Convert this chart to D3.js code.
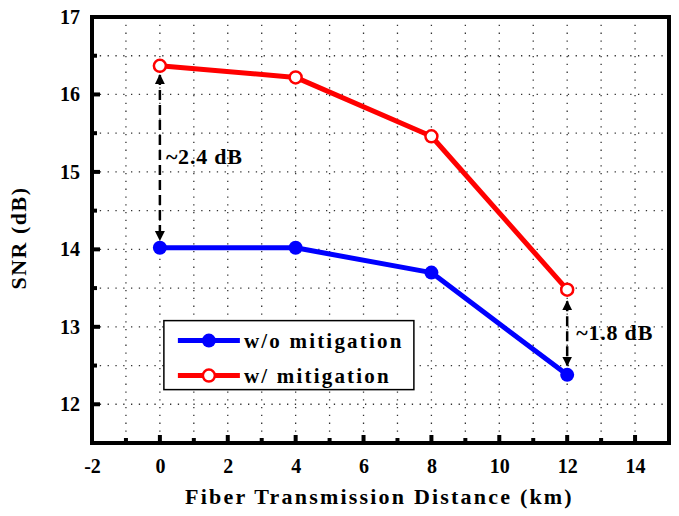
<!DOCTYPE html>
<html>
<head>
<meta charset="utf-8">
<script src="https://cdn.jsdelivr.net/npm/d3@7"></script>
<style>
  body { margin: 0; background: #fff; }
  text { font-family: "Liberation Serif", "Times New Roman", serif; font-weight: bold; }
</style>
</head>
<body>
<div id="chart"></div>
<script>
// distances (km)
const distances = [0, 4, 8, 12];
// SNR (dB)
const snrWithout = [14.02, 14.02, 13.70, 12.38];
const snrWith = [16.37, 16.22, 15.46, 13.48];
const xTicks = [-2, 0, 2, 4, 6, 8, 10, 12, 14];
const yTicks = [12, 13, 14, 15, 16, 17];

const W = 679, H = 516;
const margin = {top: 17, right: 10, bottom: 73, left: 92};
const width = W - margin.left - margin.right;
const height = H - margin.top - margin.bottom;

const svg = d3.select("#chart").append("svg")
    .attr("width", W)
    .attr("height", H);

const g = svg.append("g")
    .attr("transform", "translate(" + margin.left + "," + margin.top + ")");

const x = d3.scaleLinear().domain([-2, 15]).range([0, width]);
const y = d3.scaleLinear().domain([11.5, 17]).range([height, 0]);

// dotted grid
const gridX = d3.range(-1, 15, 1);
const gridY = d3.range(12, 17, 0.5);
g.selectAll(".gx").data(gridX).enter().append("line")
    .attr("x1", d => x(d)).attr("x2", d => x(d))
    .attr("y1", 0).attr("y2", height)
    .attr("stroke", "#333").attr("stroke-width", 1.3)
    .attr("stroke-dasharray", "1.3,6.5");
g.selectAll(".gy").data(gridY).enter().append("line")
    .attr("y1", d => y(d)).attr("y2", d => y(d))
    .attr("x1", 0).attr("x2", width)
    .attr("stroke", "#333").attr("stroke-width", 1.3)
    .attr("stroke-dasharray", "1.3,6.5");

// ticks (inside)
g.selectAll(".tx").data(gridX.concat([-2, 15])).enter().append("line")
    .attr("x1", d => x(d)).attr("x2", d => x(d))
    .attr("y1", height).attr("y2", d => height - (d % 2 === 0 ? 8 : 5))
    .attr("stroke", "#000").attr("stroke-width", 4);
g.selectAll(".ty").data(gridY).enter().append("line")
    .attr("y1", d => y(d)).attr("y2", d => y(d))
    .attr("x1", 0).attr("x2", d => (d % 1 === 0 ? 8 : 5))
    .attr("stroke", "#000").attr("stroke-width", 4);

// axis labels
const fmt = d => String(d);
const xAxis = d3.axisBottom(x).tickValues(xTicks).tickFormat(fmt).tickSize(0).tickPadding(16);
g.append("g").attr("transform", "translate(0," + height + ")").call(xAxis)
    .call(s => s.select(".domain").remove())
    .selectAll("text").attr("font-size", 20).attr("fill", "#000");
const yAxis = d3.axisLeft(y).tickValues(yTicks).tickFormat(fmt).tickSize(0).tickPadding(12);
g.append("g").call(yAxis)
    .call(s => s.select(".domain").remove())
    .selectAll("text").attr("font-size", 20).attr("fill", "#000");

// frame
g.append("rect").attr("x", 0).attr("y", 0).attr("width", width).attr("height", height)
    .attr("fill", "none").attr("stroke", "#000").attr("stroke-width", 4);

// lines
const line = d3.line().x(d => x(d[0])).y(d => y(d[1]));
const blueData = distances.map((d, i) => [d, snrWithout[i]]);
const redData = distances.map((d, i) => [d, snrWith[i]]);

g.append("path").datum(blueData).attr("d", line)
    .attr("fill", "none").attr("stroke", "#0000ff").attr("stroke-width", 5)
    .attr("stroke-linejoin", "round");
g.selectAll(".pb").data(blueData).enter().append("circle")
    .attr("cx", d => x(d[0])).attr("cy", d => y(d[1])).attr("r", 7)
    .attr("fill", "#0000ff");

g.append("path").datum(redData).attr("d", line)
    .attr("fill", "none").attr("stroke", "#ff0000").attr("stroke-width", 5)
    .attr("stroke-linejoin", "round");
g.selectAll(".pr").data(redData).enter().append("circle")
    .attr("cx", d => x(d[0])).attr("cy", d => y(d[1])).attr("r", 6)
    .attr("fill", "#fff").attr("stroke", "#ff0000").attr("stroke-width", 2.5);

// arrow markers
const defs = svg.append("defs");
defs.append("marker").attr("id", "ah").attr("viewBox", "0 0 10 10")
    .attr("refX", 9).attr("refY", 5).attr("markerWidth", 4).attr("markerHeight", 5)
    .attr("markerUnits", "strokeWidth")
    .attr("orient", "auto-start-reverse")
    .append("path").attr("d", "M0,0 L10,5 L0,10 Z").attr("fill", "#000");

function gapArrow(xv, y1, y2) {
    g.append("line")
        .attr("x1", x(xv)).attr("x2", x(xv))
        .attr("y1", y(y1)).attr("y2", y(y2))
        .attr("stroke", "#000").attr("stroke-width", 2.5)
        .attr("stroke-dasharray", "10,5")
        .attr("marker-start", "url(#ah)").attr("marker-end", "url(#ah)");
}
gapArrow(0, snrWith[0] - 0.12, snrWithout[0] + 0.1);
gapArrow(12, snrWith[3] - 0.15, snrWithout[3] + 0.12);

g.append("text").attr("x", x(0) + 6).attr("y", y(15.2)).attr("dy", "0.35em")
    .attr("font-size", 22).attr("letter-spacing", 0.8).text("~2.4 dB");
g.append("text").attr("x", x(12) + 9).attr("y", y(12.93)).attr("dy", "0.35em")
    .attr("font-size", 22).attr("letter-spacing", 0.8).text("~1.8 dB");

// legend
const lx = x(0) + 4, ly = y(13.08);
const legend = g.append("g").attr("transform", "translate(" + lx + "," + ly + ")");
legend.append("rect").attr("width", 250).attr("height", 69)
    .attr("fill", "#fff").attr("stroke", "#000").attr("stroke-width", 1.5);
const legendItems = [
    {label: "w/o mitigation", color: "#0000ff", filled: true},
    {label: "w/ mitigation", color: "#ff0000", filled: false}
];
legendItems.forEach((d, i) => {
    const yy = 20 + i * 35;
    legend.append("line").attr("x1", 14).attr("x2", 76).attr("y1", yy).attr("y2", yy)
        .attr("stroke", d.color).attr("stroke-width", 5);
    legend.append("circle").attr("cx", 45).attr("cy", yy).attr("r", d.filled ? 7 : 6)
        .attr("fill", d.filled ? d.color : "#fff")
        .attr("stroke", d.color).attr("stroke-width", d.filled ? 0 : 2.5);
    legend.append("text").attr("x", 80).attr("y", yy).attr("dy", "0.35em")
        .attr("font-size", 21).attr("letter-spacing", 2.2).text(d.label);
});

// axis titles
svg.append("text").attr("x", margin.left + width / 2 - 1).attr("y", 504)
    .attr("text-anchor", "middle").attr("font-size", 22).attr("letter-spacing", 2.2)
    .text("Fiber Transmission Distance (km)");
svg.append("text")
    .attr("transform", "translate(26," + (margin.top + height / 2 + 8) + ") rotate(-90)")
    .attr("text-anchor", "middle").attr("font-size", 22).attr("letter-spacing", 1.5)
    .text("SNR (dB)");
</script>
</body>
</html>
